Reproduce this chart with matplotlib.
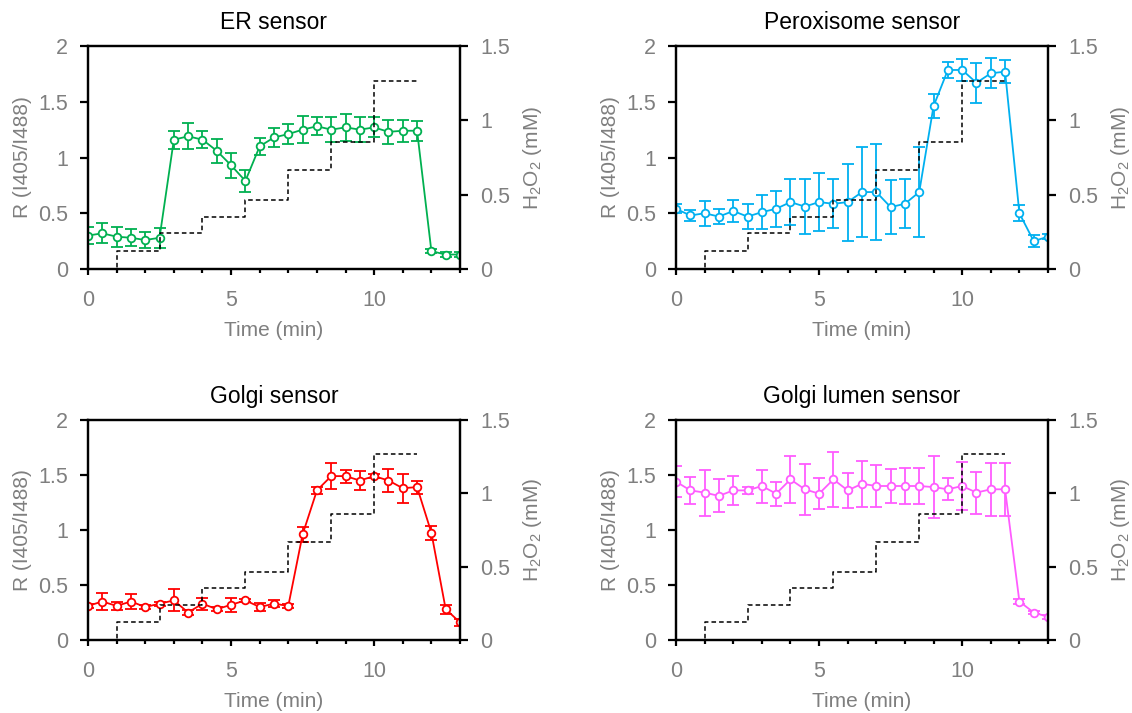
import matplotlib
matplotlib.use("Agg")
import matplotlib.pyplot as plt
from matplotlib.ticker import MultipleLocator, FormatStrFormatter

plt.rcParams['font.family'] = ['Liberation Sans', 'DejaVu Sans']
plt.rcParams['mathtext.fontset'] = 'custom'
plt.rcParams['mathtext.rm'] = 'Liberation Sans'
plt.rcParams['mathtext.default'] = 'regular'

GREY = '#7f7f7f'

# time points (min), every 30 s
time = [0, 0.5, 1, 1.5, 2, 2.5, 3, 3.5, 4, 4.5, 5, 5.5, 6, 6.5, 7, 7.5,
        8, 8.5, 9, 9.5, 10, 10.5, 11, 11.5, 12, 12.5, 13]

# H2O2 added (step profile, right axis)
h2o2_time = [0, 1, 2.5, 4, 5.5, 7, 8.5, 10, 11.5]
h2o2_conc = [0, 0.123, 0.24, 0.352, 0.462, 0.668, 0.857, 1.265, 1.265]

er_mean = [0.30, 0.32, 0.29, 0.28, 0.26, 0.28, 1.16, 1.19, 1.16, 1.06, 0.93, 0.79, 1.10, 1.18,
           1.21, 1.25, 1.28, 1.25, 1.27, 1.25, 1.27, 1.23, 1.24, 1.24, 0.16, 0.13, 0.13]
er_err = [0.08, 0.09, 0.09, 0.075, 0.075, 0.09, 0.08, 0.115, 0.075, 0.105, 0.11, 0.10, 0.075, 0.085,
          0.09, 0.12, 0.08, 0.115, 0.12, 0.115, 0.09, 0.11, 0.10, 0.09, 0.02, 0.02, 0.02]

perox_mean = [0.54, 0.48, 0.50, 0.47, 0.52, 0.47, 0.51, 0.54, 0.60, 0.56, 0.60, 0.585, 0.60, 0.69,
              0.69, 0.555, 0.585, 0.69, 1.46, 1.785, 1.785, 1.67, 1.755, 1.77, 0.50, 0.25, 0.29]
perox_err = [0.04, 0.05, 0.11, 0.07, 0.10, 0.11, 0.155, 0.16, 0.205, 0.245, 0.26, 0.22, 0.345, 0.405,
             0.43, 0.245, 0.22, 0.405, 0.11, 0.07, 0.10, 0.18, 0.135, 0.105, 0.07, 0.057, 0.02]

golgi_mean = [0.31, 0.35, 0.31, 0.35, 0.30, 0.33, 0.36, 0.25, 0.33, 0.28, 0.32, 0.36, 0.30, 0.33,
              0.31, 0.96, 1.36, 1.49, 1.49, 1.45, 1.49, 1.45, 1.38, 1.39, 0.975, 0.28, 0.16]
golgi_err = [0.02, 0.075, 0.04, 0.07, 0.015, 0.02, 0.10, 0.025, 0.055, 0.02, 0.065, 0.015, 0.035, 0.03,
             0.02, 0.07, 0.035, 0.12, 0.06, 0.09, 0.02, 0.105, 0.13, 0.06, 0.065, 0.04, 0.035]

lumen_mean = [1.44, 1.36, 1.34, 1.31, 1.36, 1.36, 1.40, 1.33, 1.46, 1.37, 1.33, 1.46, 1.36, 1.42,
              1.40, 1.40, 1.40, 1.40, 1.39, 1.37, 1.40, 1.34, 1.37, 1.37, 0.35, 0.25, 0.21]
lumen_err = [0.14, 0.12, 0.21, 0.15, 0.13, 0.035, 0.15, 0.11, 0.21, 0.23, 0.14, 0.25, 0.16, 0.21,
             0.19, 0.155, 0.16, 0.16, 0.28, 0.10, 0.22, 0.19, 0.24, 0.24, 0.02, 0.015, 0.015]

titles = ['ER sensor', 'Peroxisome sensor', 'Golgi sensor', 'Golgi lumen sensor']
colors = ['#00b050', '#00b0f0', '#ff0000', '#ff5cff']


def style_axis(ax):
    for side in ['left', 'right', 'top', 'bottom']:
        ax.spines[side].set_linewidth(1.6)
        ax.spines[side].set_color('black')
    ax.tick_params(axis='y', which='major', direction='out', length=5.5, width=1.6, pad=9,
                   color='black', labelcolor=GREY, labelsize=15.5)
    ax.tick_params(axis='x', which='major', direction='out', length=4, width=1.6, pad=11,
                   color='black', labelcolor=GREY, labelsize=15.5)
    ax.tick_params(axis='x', which='minor', direction='out', length=3, width=1.6, color='black')


def plot_panel(rect, mean, err, color, title):
    ax = fig.add_axes(rect)
    ax.errorbar(time, mean, yerr=err, color=color, lw=1.3, marker='o', ms=5.5,
                mfc='white', mec=color, mew=1.3, capsize=4, capthick=1.3, elinewidth=1.3)
    ax.set_xlim(0, 13)
    ax.set_ylim(0, 2)
    ax.xaxis.set_major_locator(MultipleLocator(5))
    ax.xaxis.set_minor_locator(MultipleLocator(1))
    ax.yaxis.set_major_locator(MultipleLocator(0.5))
    ax.yaxis.set_major_formatter(FormatStrFormatter('%g'))
    ax.set_xlabel('Time (min)', color=GREY, fontsize=15, labelpad=7)
    ax.set_ylabel('R (I405/I488)', color=GREY, fontsize=15, labelpad=4)
    ax.set_title(title, fontsize=16.5, color='black', pad=12)
    style_axis(ax)

    ax2 = ax.twinx()
    ax2.step(h2o2_time, h2o2_conc, where='post', color='black', lw=1.1, ls=(0, (3, 2)))
    ax2.set_ylim(0, 1.5)
    ax2.yaxis.set_major_locator(MultipleLocator(0.5))
    ax2.yaxis.set_major_formatter(FormatStrFormatter('%g'))
    ax2.set_ylabel('H$_2$O$_2$ (mM)', color=GREY, fontsize=15, labelpad=8)
    style_axis(ax2)
    ax2.tick_params(axis='y', which='minor', length=0)
    return ax


fig = plt.figure(figsize=(11.32, 7.13), dpi=100)

w = 372 / 1132
h_top = 223 / 713
h_bot = 220 / 713
rects = [
    [88 / 1132, 1 - 269 / 713, w, h_top],
    [676 / 1132, 1 - 269 / 713, w, h_top],
    [88 / 1132, 1 - 640 / 713, w, h_bot],
    [676 / 1132, 1 - 640 / 713, w, h_bot],
]
means = [er_mean, perox_mean, golgi_mean, lumen_mean]
errs = [er_err, perox_err, golgi_err, lumen_err]

for rect, m, e, c, t in zip(rects, means, errs, colors, titles):
    plot_panel(rect, m, e, c, t)

fig.savefig('out.png', dpi=100)
